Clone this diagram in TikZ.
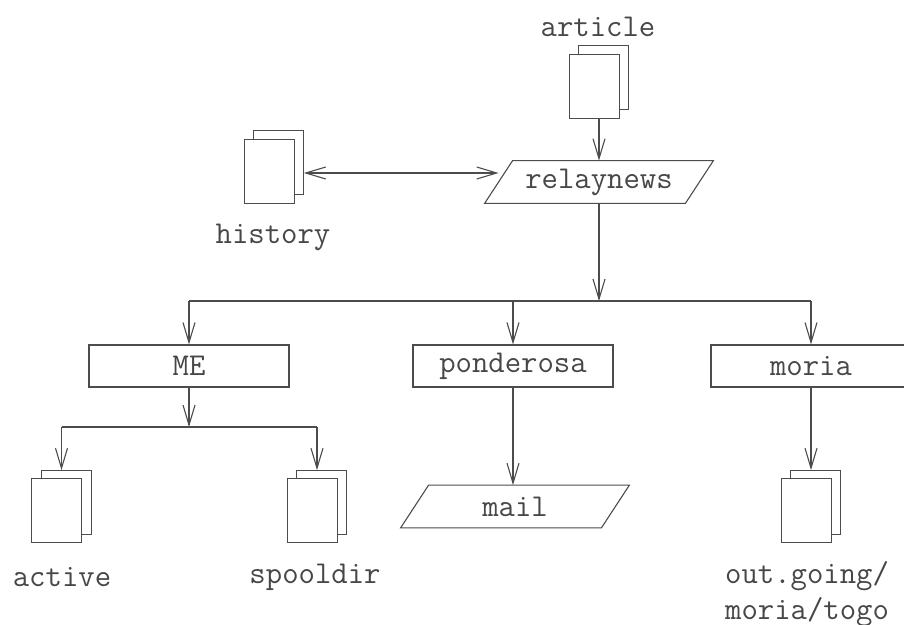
\documentclass[tikz,border=0pt]{standalone}
\usetikzlibrary{arrows.meta}

% two stacked pages inside a doc node's box
\newcommand\docpages[1]{%
  \draw[page] (#1.north east) rectangle ++(-25pt,-32pt);
  \draw[page] (#1.south west) rectangle ++(25pt,32pt);}
% slanted (parallelogram) outline round a node
\newcommand\slantoutline[1]{%
  \draw[outline] ([xshift=7pt]#1.north west) -- ([xshift=7pt]#1.north east)
    -- ([xshift=-7pt]#1.south east) -- ([xshift=-7pt]#1.south west) -- cycle;}

\begin{document}
\begin{tikzpicture}[x=0.5pt, y=-0.5pt,
  every node/.style={font=\fontsize{15.9}{18}\selectfont\ttfamily, text=black!72},
  tip/.tip={Straight Barb[length=10pt,width=6pt]},
  wire/.style={draw=black!70, line width=0.55pt},
  arr/.style={wire, -tip},
  darr/.style={wire, tip-tip},
  outline/.style={draw=black!70, line width=0.55pt},
  page/.style={outline, fill=white},
  procbox/.style={outline, minimum width=100pt, minimum height=21pt, inner sep=0pt},
  slantbox/.style={minimum width=100pt, minimum height=21pt, inner sep=0pt},
  docbox/.style={minimum width=29.5pt, minimum height=36pt, inner sep=0pt},
]
\useasboundingbox (0,0) rectangle (904,625);

% top: incoming article and relaynews
\node (lart) at (598,27) {article};
\node[docbox] (art) at (599,82) {};
\docpages{art}
\node[slantbox] (relay) at (599,182) {relaynews};
\slantoutline{relay}

\node[docbox] (hist) at (274,167) {};
\docpages{hist}
\node (lhist) at (273,237) {history};

\draw[arr] (art) -- (relay);
\draw[darr] ([yshift=-3pt]hist.east) -- ([yshift=-3pt]hist.east -| relay.west);

% distribution to the three systems
\node[procbox] (me) at (189,366) {ME};
\node[procbox] (pond) at (513,366) {ponderosa};
\node[procbox] (moria) at (811,366) {moria};

\coordinate (fork) at (relay.south |- 0,301);
\coordinate (forkL) at (me.north |- fork);
\coordinate (forkM) at (pond.north |- fork);
\coordinate (forkR) at (moria.north |- fork);
\draw[arr] (relay) -- (fork);
\draw[wire] (forkL) -- (forkR);
\draw[arr] (forkL) -- (me);
\draw[arr] (forkM) -- (pond);
\draw[arr] (forkR) -- (moria);

% local spool
\node[docbox] (active) at (61.5,506.5) {};
\docpages{active}
\node[docbox] (spool) at (317,506.5) {};
\docpages{spool}
\node (lactive) at (62,577) {active};
\node (lspool) at (315,577) {spooldir};

\coordinate (fork2) at (me.south |- 0,427);
\coordinate (fork2L) at (active.north |- fork2);
\coordinate (fork2R) at (spool.north |- fork2);
\draw[arr] (me) -- (fork2);
\draw[wire] (fork2L) -- (fork2R);
\draw[arr] (fork2L) -- (active);
\draw[arr] (fork2R) -- (spool);

% mail feed
\node[slantbox] (mail) at (515,506.5) {mail};
\slantoutline{mail}
\draw[arr] (pond.south) -- (pond.south |- mail.north);

% outgoing batch
\node[docbox] (togo) at (811,506.5) {};
\docpages{togo}
\node[align=center] (ltogo) at (807,594) {out.going/\\moria/togo};
\draw[arr] (moria) -- (togo);
\end{tikzpicture}
\end{document}
